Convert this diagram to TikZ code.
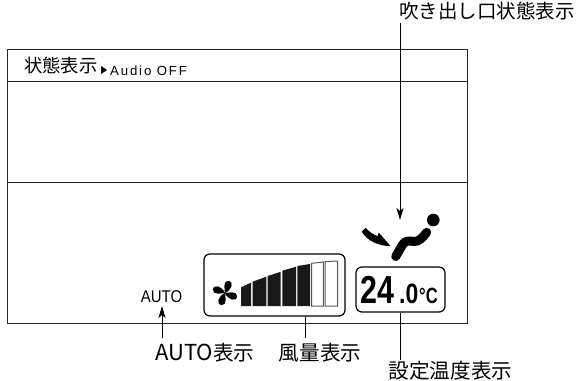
\documentclass[tikz,border=0pt]{standalone}
\usepackage{fontspec}
\setmainfont{Liberation Sans}
\newfontfamily\cjk{Noto Sans CJK JP}
\usetikzlibrary{arrows.meta}
\tikzset{
  x=1pt,y=-1pt,
  frameline/.style={draw=black!85,line width=0.9pt},
  lcdbox/.style={draw=black,line width=1.2pt,rounded corners=6pt},
  leader/.style={draw=black,line width=0.9pt},
  tipped/.style={leader,-{Stealth[length=12pt,width=7pt,inset=3pt]}},
  callout/.style={inner sep=0pt,font=\fontsize{20.6}{21}\selectfont\cjk,anchor=center},
  solidbar/.style={fill=black!90,draw=none},
  openbar/.style={draw=black!65,line width=1pt,fill=white},
}
\begin{document}
\begin{tikzpicture}
\useasboundingbox (0,0) rectangle (577,380);
% frame
\draw[frameline] (7,49) rectangle (467,323);
\draw[frameline] (7,81) -- (467,81);
\draw[frameline] (7,182) -- (467,182);
% status line
\node[inner sep=0pt,anchor=west,font=\fontsize{18.3}{20}\selectfont\cjk] (status) at (24,65.5) {状態表示};
\fill (101,66) -- (107,70) -- (101,74) -- cycle;
\node[inner sep=0pt,anchor=west,font=\fontsize{13.2}{14}\selectfont\addfontfeature{LetterSpace=14}] (audio) at (110,70.5) {Audio OFF};
% fan box
\node[lcdbox,minimum width=141pt,minimum height=62pt,inner sep=0pt] (fanbox) at (274.5,285) {};
% fan icon
\foreach \a in {-20,70,160,250}{
  \fill[black,shift={(225,293)},rotate=\a] (0,0) .. controls (-1.5,-3) and (-6.5,-11) .. (-1,-12.5) .. controls (5,-14) and (5.5,-5) .. (0,0) -- cycle;
}
% bars
\fill[solidbar] (241,306) -- (241,287.3) -- (251,282.7) -- (251,306) -- cycle;
\fill[solidbar] (252.7,306) -- (252.7,281.7) -- (266.3,276.7) -- (266.3,306) -- cycle;
\fill[solidbar] (267.7,306) -- (267.7,276) -- (280.7,271.7) -- (280.7,306) -- cycle;
\fill[solidbar] (282.3,306) -- (282.3,270.7) -- (296,266.7) -- (296,306) -- cycle;
\fill[solidbar] (297.3,306) -- (297.3,266) -- (310,264) -- (310,306) -- cycle;
\draw[openbar] (311.7,306) -- (311.7,263.3) -- (323.3,262) -- (323.3,306) -- cycle;
\draw[openbar] (325,306) -- (325,261.7) -- (337.7,261) -- (337.7,306) -- cycle;
% temperature box
\node[lcdbox,minimum width=89pt,minimum height=45pt,inner sep=0pt] (tempbox) at (400.5,289.5) {};
\node[inner sep=0pt,anchor=base west,font=\fontsize{39}{39}\selectfont\bfseries,xscale=0.78] (tempbig) at (360.5,303) {24};
\node[inner sep=0pt,anchor=base west,font=\fontsize{28}{28}\selectfont\bfseries,xscale=0.82] (tempdot) at (399,303) {.0};
\node[inner sep=0pt,anchor=base west,font=\fontsize{22}{22}\selectfont\bfseries,xscale=0.75] (tempunit) at (419,303) {°C};
% seat / person icon
\fill (433.3,220) circle (6.3);
\draw[line width=9pt,line cap=round,line join=round] (395.7,256.5) -- (403,244) .. controls (406,240) and (410,241) .. (414,241.5) .. controls (419,242) and (423,237) .. (426.7,232.3);
% flow arrow shape
\fill (361.7,231.7) -- (365.7,227.8) .. controls (369,231.5) and (373,234.5) .. (377.7,236.2) -- (378.7,232.5) -- (390.5,246) .. controls (380,246.5) and (367,241) .. (361.7,231.7) -- cycle;
% AUTO
\node[inner sep=0pt,font=\fontsize{17}{17}\selectfont,xscale=0.88] (auto) at (161.5,297) {AUTO};
% callouts
\node[callout,font=\fontsize{19.5}{20}\selectfont\cjk] (lblvent) at (487,11) {吹き出し口状態表示};
\node[callout] (lblauto) at (205,353) {\fontsize{22}{22}\selectfont AUTO\cjk\fontsize{20.6}{21}\selectfont 表示};
\node[callout] (lblfan) at (320,353) {風量表示};
\node[callout] (lbltemp) at (450.5,371) {設定温度表示};
% connectors
\coordinate (autotop) at (162,306);
\coordinate (ventup) at (400,23);
\coordinate (ventdown) at (400,220);
\coordinate (tempdown) at (400,360);
\coordinate (fandown) at (305,338);
\coordinate (autodown) at (162,338);
\draw[tipped] (ventup) -- (ventdown);
\draw[tipped] (autodown) -- (autotop);
\draw[leader] (fanbox.south -| fandown) -- (fandown);
\draw[leader] (tempbox.south -| tempdown) -- (tempdown);
\end{tikzpicture}
\end{document}
